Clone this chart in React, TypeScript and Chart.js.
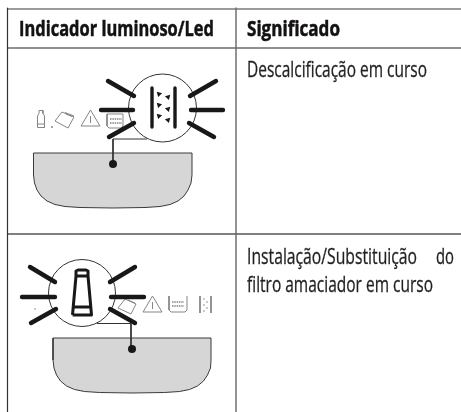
import React, { useEffect, useRef } from "react";
import { Chart, registerables } from "chart.js";

Chart.register(...registerables);

type P = [number, number];

const INK = "#1a1718";
const GREY = "#858585";

// table rules
const ruleTop: P[] = [[7, 9], [461, 9]];
const ruleHeader: P[] = [[7, 48], [461, 48]];
const ruleRow: P[] = [[7, 234], [461, 234]];
const ruleLeft: P[] = [[7.5, 8], [7.5, 412]];
const ruleMiddle: P[] = [[236, 8], [236, 412]];

// upper panel
const basinUpper: P[] = [[33.5, 153], [33.5, 175], [34.5, 183], [37, 190], [41, 196], [47, 201], [55, 204.5], [65, 206.5], [80, 207.5], [112.75, 208], [145, 207.5], [160, 206.5], [170, 204.5], [178, 201], [184, 196], [188, 190], [191, 183], [192, 175], [192, 153]];
const basinUpperRim: P[] = [[33.5, 153], [192, 153]];
const leaderUpper: P[] = [[147, 139], [113, 139], [113, 164]];
const dotUpper: P[] = [[113, 164]];
const lampUpper: P[] = [[162.5, 108]];
const raysUpper: P[][] = [
  [[108, 81], [134, 96]], [[216, 81], [190, 96]], [[101, 110], [133, 110]],
  [[191, 110], [223, 110]], [[109, 137], [134, 123]], [[189, 123], [214, 137]],
];
const barsUpper: P[][] = [[[152, 88], [152, 127]], [[175, 88], [175, 127]]];
const arrowsRight: P[] = [[159, 94], [159, 105], [159, 116]];
const arrowsLeft: P[] = [[168, 97], [168, 109], [168, 120]];
const greyIconsUpper: P[][] = [
  [[37.5, 127.5], [37.5, 116], [39, 113.5], [39, 110.5], [43, 110.5], [43, 113.5], [44.5, 116], [44.5, 127.5], [37.5, 127.5]],
  [[37.5, 124], [44.5, 124]],
  [[62, 112], [74, 117], [68, 128], [55, 121], [62, 112]],
  [[65, 112.5], [74, 116]],
  [[66, 114], [72, 116.5]],
  [[81, 126], [90.5, 110], [100, 126], [81, 126]],
  [[90.5, 116], [90.5, 123]],
  [[107, 114], [107, 126], [109, 128], [121, 128], [123, 126], [123, 114], [107, 114]],
];
const basketDotsUpper: P[][] = [[[110, 119], [122, 119]], [[110, 123], [122, 123]]];
const specksUpper: P[] = [[52, 127]];

// lower panel
const basinLower: P[] = [[53, 338], [53, 360], [54, 368], [56.5, 375], [60.5, 381], [66.5, 386], [74.5, 389.5], [84.5, 391.5], [99.5, 392.5], [132, 393], [164.5, 392.5], [179.5, 391.5], [189.5, 389.5], [197.5, 386], [203.5, 381], [207.5, 375], [210.5, 368], [211, 360], [211, 338]];
const basinLowerRim: P[] = [[53, 338], [211, 338]];
const leaderLower: P[] = [[97, 323.5], [131, 323.5], [131, 349]];
const dotLower: P[] = [[132, 349]];
const lampLower: P[] = [[82, 293]];
const raysLower: P[][] = [
  [[30, 267], [55, 282]], [[135, 267], [110, 282]], [[22, 297], [55, 297]],
  [[111, 297], [144, 297]], [[31, 323], [56, 309]], [[110, 309], [135, 323]],
];
const tubeOutline: P[] = [[72.5, 315], [76, 276], [76, 271], [78, 270], [86, 270], [88, 271], [88, 276], [91.5, 315], [72.5, 315]];
const tubeBands: P[][] = [[[74, 307], [90, 307]], [[76, 276], [88, 276]]];
const greyIconsLower: P[][] = [
  [[125, 299], [136, 304], [131, 314], [118, 308], [125, 299]],
  [[128, 300], [135, 303]],
  [[143, 312], [152.5, 296], [162, 312], [143, 312]],
  [[152.5, 302], [152.5, 309]],
  [[169, 296], [169, 310], [171, 312], [185, 312], [187, 310], [187, 296]],
  [[200, 296], [200, 313]],
  [[211, 296], [211, 313]],
];
const basketDotsLower: P[][] = [[[172, 302], [184, 302]], [[172, 306], [184, 306]]];
const specksLower: P[] = [[35, 309], [204, 299], [207, 302], [204, 305], [207, 308], [204, 311]];

// texts
const headerLabels = ["Indicador luminoso/Led", "Significado"];
const meaningUpper = ["Descalcificação em curso"];
const meaningLower = ["Instalação/Substituição", "do", "filtro amaciador em curso"];

const textPlugin = {
  id: "tableText",
  afterDatasetsDraw(chart: any) {
    const { ctx, scales } = chart;
    const x = (v: number) => scales.x.getPixelForValue(v);
    const y = (v: number) => scales.y.getPixelForValue(v);
    const put = (t: string, px: number, py: number, w: number, bold: boolean) => {
      ctx.save();
      ctx.font = `${bold ? "bold " : ""}21px "Open Sans", sans-serif`;
      ctx.fillStyle = bold ? "#141112" : "#231f20";
      ctx.strokeStyle = ctx.fillStyle;
      ctx.lineWidth = bold ? 0.5 : 0.3;
      ctx.textBaseline = "alphabetic";
      ctx.fillText(t, x(px), y(py), w);
      ctx.strokeText(t, x(px), y(py), w);
      ctx.restore();
    };
    put(headerLabels[0], 19, 36, 195, true);
    put(headerLabels[1], 247, 36, 93, true);
    put(meaningUpper[0], 247, 77, 180, false);
    put(meaningLower[0], 247, 264, 170, false);
    put(meaningLower[1], 436, 264, 18, false);
    put(meaningLower[2], 247, 292, 186, false);
  },
};

export default function App() {
  const ref = useRef<HTMLCanvasElement | null>(null);

  useEffect(() => {
    document.body.style.margin = "0";
    const ds: any[] = [];
    const line = (pts: P[], color: string, width: number, extra: any = {}) =>
      ds.push({
        data: pts.map(([x, y]) => ({ x, y })),
        showLine: true,
        borderColor: color,
        borderWidth: width,
        pointRadius: 0,
        fill: false,
        tension: 0,
        borderCapStyle: "butt",
        borderJoinStyle: "round",
        clip: false,
        ...extra,
      });
    const marks = (pts: P[], style: string, r: number, color: string, extra: any = {}) =>
      ds.push({
        data: pts.map(([x, y]) => ({ x, y })),
        showLine: false,
        pointStyle: style,
        pointRadius: r,
        pointBackgroundColor: color,
        pointBorderColor: color,
        pointBorderWidth: 0,
        clip: false,
        ...extra,
      });

    line(ruleTop, "#7a7a7a", 1.5);
    line(ruleHeader, "#222222", 1.2);
    line(ruleRow, "#808080", 2);
    line(ruleLeft, "#333333", 1.2);
    line(ruleMiddle, "#666666", 1.4);

    // upper panel
    line(basinUpper, "#3a3a3a", 1, { fill: { value: 153 }, backgroundColor: "#d6d6d6" });
    line(basinUpperRim, "#3a3a3a", 1);
    greyIconsUpper.forEach((p) => line(p, GREY, 1));
    basketDotsUpper.forEach((p) => line(p, GREY, 1.6, { borderDash: [1.5, 0.8] }));
    marks(specksUpper, "circle", 1, GREY);
    line(leaderUpper, "#333333", 1);
    marks(dotUpper, "circle", 4, INK);
    marks(lampUpper, "circle", 34, "#ffffff", { pointBorderColor: "#333333", pointBorderWidth: 1 });
    raysUpper.forEach((p) => line(p, INK, 4.4, { borderCapStyle: "round" }));
    barsUpper.forEach((p) => line(p, INK, 3.4));
    marks(arrowsRight, "triangle", 3.2, INK, { pointRotation: 75 });
    marks(arrowsLeft, "triangle", 3.2, INK, { pointRotation: -75 });

    // lower panel
    line(basinLower, "#3a3a3a", 1, { fill: { value: 338 }, backgroundColor: "#d6d6d6" });
    line(basinLowerRim, "#3a3a3a", 1);
    greyIconsLower.forEach((p) => line(p, GREY, 1));
    basketDotsLower.forEach((p) => line(p, GREY, 1.6, { borderDash: [1.5, 0.8] }));
    marks(specksLower, "circle", 0.8, GREY);
    line(leaderLower, "#333333", 1);
    marks(dotLower, "circle", 4, INK);
    marks(lampLower, "circle", 33.5, "#ffffff", { pointBorderColor: "#333333", pointBorderWidth: 1 });
    raysLower.forEach((p) => line(p, INK, 4.4, { borderCapStyle: "round" }));
    line(tubeOutline, INK, 3);
    tubeBands.forEach((p) => line(p, INK, 3));

    ds.forEach((d, i) => (d.order = ds.length - i));

    const chart = new Chart(ref.current as HTMLCanvasElement, {
      type: "scatter",
      data: { datasets: ds },
      options: {
        animation: false,
        responsive: false,
        layout: { padding: 0, autoPadding: false },
        plugins: { legend: { display: false }, tooltip: { enabled: false } },
        scales: {
          x: { type: "linear", min: 0, max: 461, display: false },
          y: { type: "linear", min: 0, max: 412, reverse: true, display: false },
        },
      },
      plugins: [textPlugin],
    } as any);
    return () => chart.destroy();
  }, []);

  return <canvas ref={ref} width={461} height={412} style={{ display: "block" }} />;
}
